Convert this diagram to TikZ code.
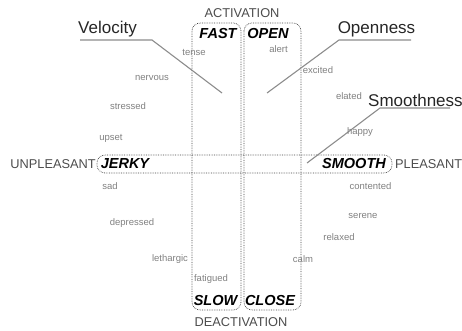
\documentclass[tikz,border=0pt]{standalone}
\usepackage{fontspec}
\setmainfont{Liberation Sans}
\begin{document}
\begin{tikzpicture}[x=1pt,y=-1pt,
  every node/.style={inner sep=0pt,anchor=base},
  title/.style={font=\fontsize{17}{17}\selectfont,text=black!85},
  axislbl/.style={font=\fontsize{12.8}{13}\selectfont,text=black!70},
  pole/.style={font=\fontsize{14.5}{15}\selectfont\bfseries\itshape,text=black},
  emo/.style={font=\fontsize{9.5}{10}\selectfont,text=black!50},
  dotbox/.style={draw=black!75,densely dotted,line width=0.7pt,rounded corners=8pt},
  leader/.style={draw=black!45,line width=1.1pt}]
\useasboundingbox (0,0) rectangle (462,331);
% boxes
\draw[dotbox] (192,23) rectangle (241,310);
\draw[dotbox] (244,23) rectangle (301,310);
\draw[dotbox] (97,155) rectangle (392,173);
% axis labels
\node[axislbl,anchor=base] (act) at (242,17.3) {ACTIVATION};
\node[axislbl,anchor=base] (deact) at (241,326.7) {DEACTIVATION};
\node[axislbl,anchor=base east] (unpl) at (96,168.3) {UNPLEASANT};
\node[axislbl,anchor=base west] (pl) at (395,168.3) {PLEASANT};
% poles
\node[pole] (fast) at (218,38.5) {FAST};
\node[pole] (open) at (268,38.5) {OPEN};
\node[pole] (slow) at (215.5,305) {SLOW};
\node[pole] (close) at (270,305) {CLOSE};
\node[pole] (jerky) at (125,168.5) {JERKY};
\node[pole] (smooth) at (354,168.5) {SMOOTH};
% titles
\node[title] (vel) at (107.5,33.5) {Velocity};
\node[title] (opn) at (376.5,33.5) {Openness};
\node[title,anchor=base west] (smo) at (368,107) {Smoothness};
% leader lines
\coordinate (v1) at (80,40);
\coordinate (v2) at (152,40);
\coordinate (v3) at (222,93);
\coordinate (o1) at (411,40);
\coordinate (o2) at (339,40);
\coordinate (o3) at (267,93);
\coordinate (s1) at (450,108);
\coordinate (s2) at (380,108);
\coordinate (s3) at (307,163);
\draw[leader] (v1) -- (v2) -- (v3);
\draw[leader] (o1) -- (o2) -- (o3);
\draw[leader] (s1) -- (s2) -- (s3);
% emotion words
\node[emo] (tense) at (194,56) {tense};
\node[emo] (nervous) at (152,81) {nervous};
\node[emo] (stressed) at (128,110) {stressed};
\node[emo] (upset) at (111,141) {upset};
\node[emo] (alert) at (278.5,53) {alert};
\node[emo] (excited) at (318,74) {excited};
\node[emo] (elated) at (349,100) {elated};
\node[emo] (happy) at (360,135) {happy};
\node[emo] (sad) at (110,189) {sad};
\node[emo] (depressed) at (132,225) {depressed};
\node[emo] (lethargic) at (170,261) {lethargic};
\node[emo] (fatigued) at (211,281) {fatigued};
\node[emo] (contented) at (370.5,189) {contented};
\node[emo] (serene) at (363,218) {serene};
\node[emo] (relaxed) at (339,240) {relaxed};
\node[emo] (calm) at (303,262) {calm};
\end{tikzpicture}
\end{document}
